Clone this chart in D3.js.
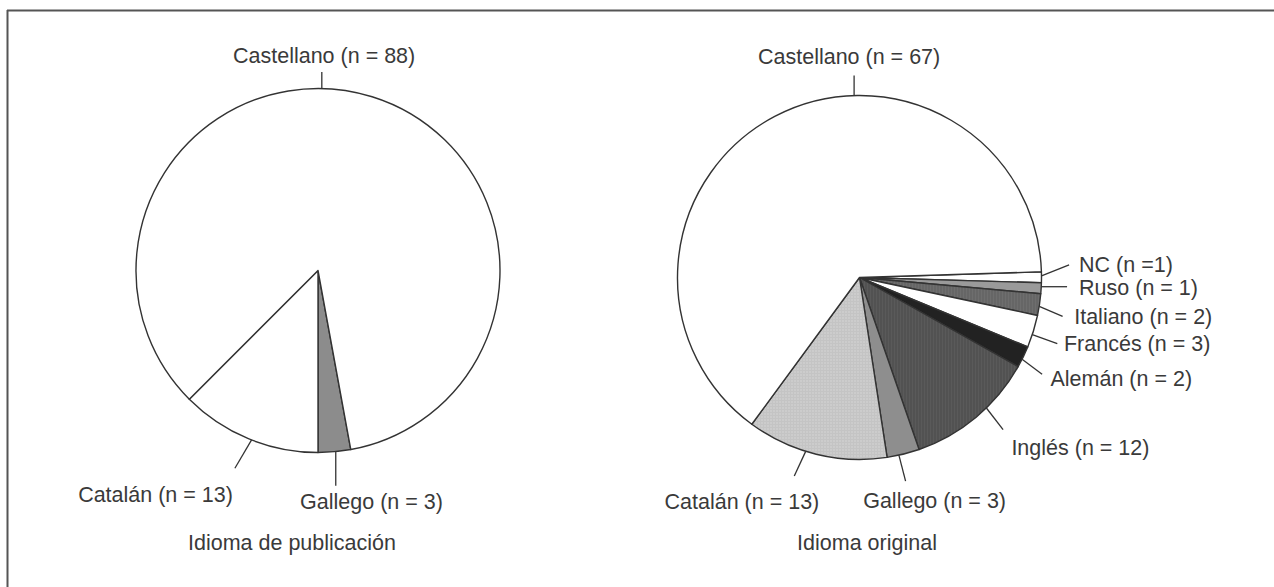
<!DOCTYPE html>
<html>
<head>
<meta charset="utf-8">
<script src="https://cdn.jsdelivr.net/npm/d3@7"></script>
<style>
  html, body { margin: 0; padding: 0; background: #fff; }
  svg { display: block; }
  text { font-family: "Liberation Sans", Arial, Helvetica, sans-serif; fill: #3a3a3a; }
</style>
</head>
<body>
<svg id="chart" width="1274" height="587"></svg>
<script>
// ---- data ----
const leftCategories = ["Gallego", "Catalán", "Castellano"];
const leftValues = [3, 13, 88];
const leftLabels = ["Gallego (n = 3)", "Catalán (n = 13)", "Castellano (n = 88)"];
const leftTitle = "Idioma de publicación";

const rightCategories = ["NC", "Ruso", "Italiano", "Francés", "Alemán", "Inglés", "Gallego", "Catalán", "Castellano"];
const rightValues = [1, 1, 2, 3, 2, 12, 3, 13, 67];
const rightLabels = ["NC (n =1)", "Ruso (n = 1)", "Italiano (n = 2)", "Francés (n = 3)", "Alemán (n = 2)",
                     "Inglés (n = 12)", "Gallego (n = 3)", "Catalán (n = 13)", "Castellano (n = 67)"];
const rightTitle = "Idioma original";

// ---- styling / layout ----
const svg = d3.select("#chart");
const deg = Math.PI / 180;
const R = 182;
const FONT = 21.5;

const defs = svg.append("defs");
// dotted light gray (Catalán, right)
const pDot = defs.append("pattern").attr("id", "dots").attr("patternUnits", "userSpaceOnUse")
  .attr("width", 3).attr("height", 3);
pDot.append("rect").attr("width", 3).attr("height", 3).attr("fill", "#c4c4c4");
pDot.append("rect").attr("x", 1).attr("y", 1).attr("width", 1).attr("height", 1).attr("fill", "#e4e4e4");
// vertical stripes dark (Inglés)
const pIng = defs.append("pattern").attr("id", "stripesDark").attr("patternUnits", "userSpaceOnUse")
  .attr("width", 3).attr("height", 3);
pIng.append("rect").attr("width", 3).attr("height", 3).attr("fill", "#5a5a5a");
pIng.append("rect").attr("width", 1).attr("height", 3).attr("fill", "#4a4a4a");
// vertical stripes (Italiano)
const pIt = defs.append("pattern").attr("id", "stripesMid").attr("patternUnits", "userSpaceOnUse")
  .attr("width", 3).attr("height", 3);
pIt.append("rect").attr("width", 3).attr("height", 3).attr("fill", "#6e6e6e");
pIt.append("rect").attr("width", 1).attr("height", 3).attr("fill", "#5e5e5e");

const leftFills = { "Gallego": "#8c8c8c", "Catalán": "#ffffff", "Castellano": "#ffffff" };
const rightFills = {
  "NC": "#ffffff", "Ruso": "#9a9a9a", "Italiano": "url(#stripesMid)", "Francés": "#ffffff",
  "Alemán": "#222222", "Inglés": "url(#stripesDark)", "Gallego": "#8e8e8e",
  "Catalán": "url(#dots)", "Castellano": "#ffffff"
};

// label placements: angle on rim (deg), leader vector, text offset from leader end, anchor
const leftPlace = {
  "Gallego":    { a: 174.4, l: [0, 34],     t: [-35.7, 23],  anchor: "start" },
  "Catalán":    { a: 201.4, l: [-16.7, 28.3], t: [-2, 33.4],  anchor: "end" },
  "Castellano": { a: 1.2,   l: [0, -16.5],  t: [2.3, -8.7],  anchor: "middle" }
};
const rightPlace = {
  "NC":         { a: 89.5,  l: [27.6, -11], t: [10, 6.7],   anchor: "start" },
  "Ruso":       { a: 92.9,  l: [25.8, 0],   t: [12, 8.3],   anchor: "start" },
  "Italiano":   { a: 99.1,  l: [23.4, 10],  t: [11.6, 7.3], anchor: "start" },
  "Francés":    { a: 108.3, l: [25, 9],     t: [6.7, 7.7],  anchor: "start" },
  "Alemán":     { a: 116.7, l: [20, 15],    t: [8.4, 11.7], anchor: "start" },
  "Inglés":     { a: 135.8, l: [16.7, 21.6], t: [8.3, 25],  anchor: "start" },
  "Gallego":    { a: 167.5, l: [6.7, 26],   t: [-42.4, 27.3], anchor: "start" },
  "Catalán":    { a: 197.2, l: [-11.4, 24.7], t: [25, 32.6], anchor: "end" },
  "Castellano": { a: -1.7,  l: [0, -20],    t: [-5, -12],   anchor: "middle" }
};

// frame (top and left rules)
svg.append("line").attr("x1", 7).attr("x2", 1274).attr("y1", 10.5).attr("y2", 10.5)
  .attr("stroke", "#555").attr("stroke-width", 2);
svg.append("line").attr("x1", 7.5).attr("x2", 7.5).attr("y1", 10).attr("y2", 587)
  .attr("stroke", "#555").attr("stroke-width", 2);

function drawPie(cx, cy, cats, vals, labels, fills, place, startDeg, title, titleX, titleY) {
  const data = cats.map((c, i) => ({ cat: c, value: vals[i], label: labels[i] }));
  const total = d3.sum(vals);
  const pie = d3.pie().value(d => d.value).sort(null)
    .startAngle(startDeg * deg).endAngle(startDeg * deg + 2 * Math.PI);
  const arc = d3.arc().innerRadius(0).outerRadius(R);
  const g = svg.append("g").attr("transform", `translate(${cx},${cy})`);
  const arcs = pie(data);
  g.selectAll("path.slice").data(arcs).join("path")
    .attr("class", "slice")
    .attr("d", arc)
    .attr("fill", d => fills[d.data.cat])
    .attr("stroke", "#333")
    .attr("stroke-width", 1.4)
    .attr("stroke-linejoin", "round");

  const lab = g.selectAll("g.lab").data(arcs).join("g").attr("class", "lab");
  lab.each(function (d) {
    const p = place[d.data.cat];
    const a = p.a * deg;
    const x0 = R * Math.sin(a), y0 = -R * Math.cos(a);
    const x1 = x0 + p.l[0], y1 = y0 + p.l[1];
    const s = d3.select(this);
    s.append("line").attr("x1", x0).attr("y1", y0).attr("x2", x1).attr("y2", y1)
      .attr("stroke", "#333").attr("stroke-width", 1.3);
    s.append("text").attr("x", x1 + p.t[0]).attr("y", y1 + p.t[1])
      .attr("text-anchor", p.anchor).attr("font-size", FONT)
      .text(d.data.label);
  });

  svg.append("text").attr("x", titleX).attr("y", titleY).attr("text-anchor", "middle")
    .attr("font-size", FONT).text(title);
}

const leftStart = 180 - 360 * leftValues[0] / d3.sum(leftValues);
drawPie(318, 270.5, leftCategories, leftValues, leftLabels, leftFills, leftPlace, leftStart,
        leftTitle, 292, 550);
drawPie(859.5, 277.5, rightCategories, rightValues, rightLabels, rightFills, rightPlace, 88.2,
        rightTitle, 867, 550);
</script>
</body>
</html>
